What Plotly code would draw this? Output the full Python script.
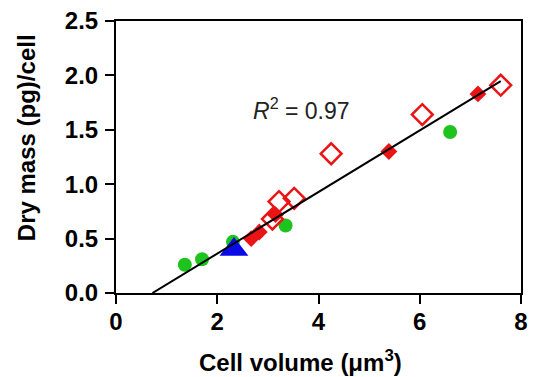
import plotly.graph_objects as go

# Data
green_x = [1.36, 1.70, 2.31, 3.35, 6.60]
green_y = [0.26, 0.31, 0.47, 0.62, 1.48]

blue_x = [2.33]
blue_y = [0.40]

red_filled_x = [2.67, 2.83, 3.15, 5.39, 7.15]
red_filled_y = [0.50, 0.56, 0.72, 1.30, 1.83]

red_open_x = [3.09, 3.22, 3.52, 4.25, 6.05, 7.60]
red_open_y = [0.68, 0.84, 0.87, 1.28, 1.64, 1.91]

fit_slope = 0.283
fit_intercept = -0.204
fit_x = [0.72, 7.60]
fit_y = [fit_slope * v + fit_intercept for v in fit_x]

x_ticks = [0, 2, 4, 6, 8]
y_ticks = [0.0, 0.5, 1.0, 1.5, 2.0, 2.5]
y_ticklabels = ["0.0", "0.5", "1.0", "1.5", "2.0", "2.5"]

GREEN = "rgb(30,195,30)"
RED = "rgb(235,20,20)"
BLUE = "rgb(10,10,230)"
FONT = "Liberation Sans, Arial"

fig = go.Figure()
fig.add_trace(go.Scatter(x=green_x, y=green_y, mode="markers",
                         marker=dict(symbol="circle", size=14, color=GREEN, line=dict(width=0))))
fig.add_trace(go.Scatter(x=red_filled_x, y=red_filled_y, mode="markers",
                         marker=dict(symbol="diamond", size=13, color=RED, line=dict(width=0))))
fig.add_trace(go.Scatter(x=red_open_x, y=red_open_y, mode="markers",
                         marker=dict(symbol="diamond-open", size=16, color=RED, line=dict(width=2.5, color=RED))))
fig.add_trace(go.Scatter(x=blue_x, y=blue_y, mode="markers",
                         marker=dict(symbol="triangle-up", size=25, color=BLUE, line=dict(width=0))))
fig.add_trace(go.Scatter(x=fit_x, y=fit_y, mode="lines",
                         line=dict(color="black", width=2)))

axis_common = dict(
    showgrid=False, zeroline=False, showline=True, linecolor="black", linewidth=2,
    mirror=True, ticks="outside", ticklen=9, tickwidth=2, tickcolor="black",
    tickfont=dict(family=FONT, size=24, color="black", weight="bold"),
)

fig.update_layout(
    width=535, height=377,
    margin=dict(l=116, r=7, t=18, b=84),
    paper_bgcolor="white", plot_bgcolor="white",
    showlegend=False,
    font=dict(family=FONT, color="black"),
    xaxis=dict(range=[0, 8], tickvals=x_ticks, ticklabelstandoff=-3, **axis_common),
    yaxis=dict(range=[0, 2.5], tickvals=y_ticks, ticktext=y_ticklabels, ticklabelstandoff=2, **axis_common),
    annotations=[
        dict(x=3.67, y=1.69, xref="x", yref="y", showarrow=False,
             text="<i>R</i><sup>2</sup> = 0.97",
             font=dict(family=FONT, size=23, color="#222")),
        dict(x=0.455, y=-0.25, xref="paper", yref="paper", showarrow=False,
             xanchor="center", yanchor="middle",
             text="<b>Cell volume (μm<sup>3</sup>)</b>",
             font=dict(family=FONT, size=24, color="black")),
        dict(x=-0.221, y=0.571, xref="paper", yref="paper", showarrow=False,
             xanchor="center", yanchor="middle", textangle=-90,
             text="<b>Dry mass (pg)/cell</b>",
             font=dict(family=FONT, size=24, color="black")),
    ],
)

fig.write_html("out.html")
